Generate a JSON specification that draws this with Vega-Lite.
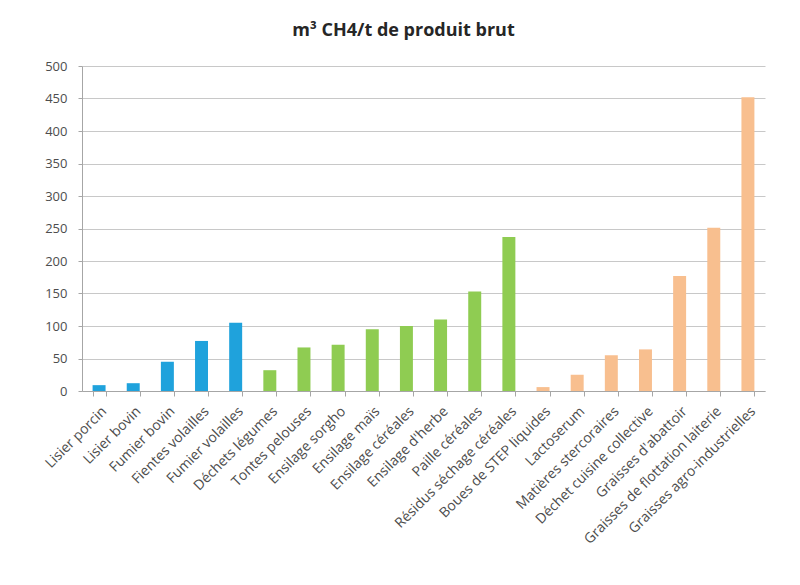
{
  "$schema": "https://vega.github.io/schema/vega-lite/v6.json",
  "autosize": {"type": "none"},
  "width": 683,
  "height": 325,
  "padding": {"left": 82, "top": 66, "right": 35, "bottom": 194},
  "background": "white",
  "title": {
    "text": "m³ CH4/t de produit brut",
    "fontSize": 18,
    "fontWeight": "bold",
    "font": "Open Sans",
    "color": "#262626",
    "anchor": "middle",
    "dx": -20,
    "offset": 20
  },
  "data": {
    "values": [
      {"substrat": "Lisier porcin", "valeur": 9, "groupe": "effluents"},
      {"substrat": "Lisier bovin", "valeur": 12, "groupe": "effluents"},
      {"substrat": "Fumier bovin", "valeur": 45, "groupe": "effluents"},
      {"substrat": "Fientes volailles", "valeur": 77, "groupe": "effluents"},
      {"substrat": "Fumier volailles", "valeur": 105, "groupe": "effluents"},
      {"substrat": "Déchets légumes", "valeur": 32, "groupe": "vegetaux"},
      {"substrat": "Tontes pelouses", "valeur": 67, "groupe": "vegetaux"},
      {"substrat": "Ensilage sorgho", "valeur": 71, "groupe": "vegetaux"},
      {"substrat": "Ensilage maïs", "valeur": 95, "groupe": "vegetaux"},
      {"substrat": "Ensilage céréales", "valeur": 100, "groupe": "vegetaux"},
      {"substrat": "Ensilage d'herbe", "valeur": 110, "groupe": "vegetaux"},
      {"substrat": "Paille céréales", "valeur": 153, "groupe": "vegetaux"},
      {"substrat": "Résidus séchage céréales", "valeur": 237, "groupe": "vegetaux"},
      {"substrat": "Boues de STEP liquides", "valeur": 6, "groupe": "industriels"},
      {"substrat": "Lactoserum", "valeur": 25, "groupe": "industriels"},
      {"substrat": "Matières stercoraires", "valeur": 55, "groupe": "industriels"},
      {"substrat": "Déchet cuisine collective", "valeur": 64, "groupe": "industriels"},
      {"substrat": "Graisses d'abattoir", "valeur": 177, "groupe": "industriels"},
      {"substrat": "Graisses de flottation laiterie", "valeur": 251, "groupe": "industriels"},
      {"substrat": "Graisses agro-industrielles", "valeur": 452, "groupe": "industriels"}
    ]
  },
  "mark": {"type": "bar"},
  "encoding": {
    "x": {
      "field": "substrat",
      "type": "nominal",
      "sort": null,
      "title": null,
      "scale": {"paddingInner": 0.62, "paddingOuter": 0.31},
      "axis": {
        "labelAngle": -45,
        "labelFontSize": 14,
        "labelFont": "Open Sans",
        "labelColor": "#4d4d4d",
        "labelPadding": 8,
        "domainColor": "#a6a6a6",
        "tickColor": "#a6a6a6",
        "tickBand": "extent",
        "tickSize": 5,
        "grid": false,
        "labelLimit": 300
      }
    },
    "y": {
      "field": "valeur",
      "type": "quantitative",
      "title": null,
      "scale": {"domain": [0, 500], "nice": false},
      "axis": {
        "values": [0, 50, 100, 150, 200, 250, 300, 350, 400, 450, 500],
        "labelFontSize": 13,
        "labelFont": "Open Sans",
        "labelColor": "#4d4d4d",
        "labelPadding": 11,
        "domainColor": "#a6a6a6",
        "tickColor": "#a6a6a6",
        "tickSize": 4,
        "gridColor": "#c8c8c8",
        "gridWidth": 1
      }
    },
    "color": {
      "field": "groupe",
      "type": "nominal",
      "legend": null,
      "scale": {
        "domain": ["effluents", "vegetaux", "industriels"],
        "range": ["#1fa2dc", "#8fcc52", "#f8bf8f"]
      }
    }
  },
  "config": {
    "view": {"stroke": null}
  }
}
